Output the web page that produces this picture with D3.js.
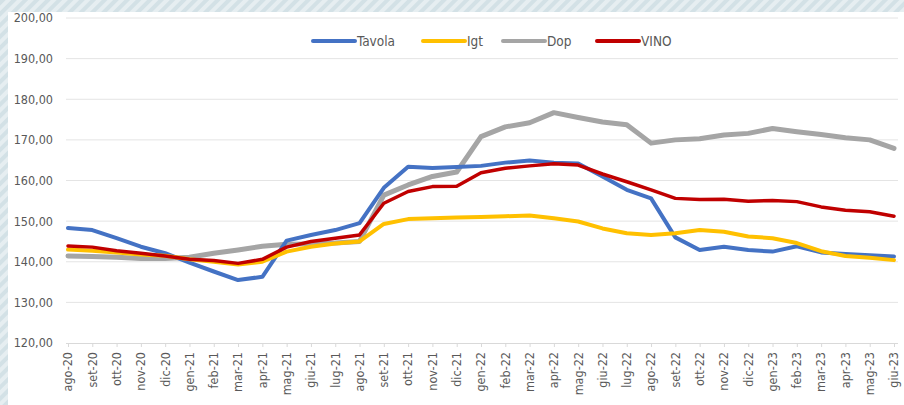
<html>
<head>
<meta charset="utf-8">
<script src="https://d3js.org/d3.v7.min.js"></script>
<style>
body { margin: 0; }
svg { display: block; }
text { font-family: "Liberation Sans Narrow", "DejaVu Sans Condensed", Arial, sans-serif; fill: #595959; }
</style>
</head>
<body>
<svg id="chart" width="904" height="405"></svg>
<script>

var months = ["ago-20","set-20","ott-20","nov-20","dic-20",
  "gen-21","feb-21","mar-21","apr-21","mag-21","giu-21","lug-21","ago-21","set-21","ott-21","nov-21","dic-21",
  "gen-22","feb-22","mar-22","apr-22","mag-22","giu-22","lug-22","ago-22","set-22","ott-22","nov-22","dic-22",
  "gen-23","feb-23","mar-23","apr-23","mag-23","giu-23"];

var tavola = [148.3,147.8,145.8,143.7,142.1,139.8,137.6,135.5,136.3,145.2,146.6,147.8,149.5,158.2,163.4,163.1,163.3,
  163.6,164.4,164.9,164.4,164.2,161.0,157.7,155.6,146.0,142.9,143.7,142.9,142.5,143.8,142.3,141.9,141.6,141.3];
var igt = [143.0,142.7,142.3,141.8,141.5,140.6,140.0,139.3,140.0,142.5,143.7,144.5,145.0,149.3,150.5,150.7,150.9,
  151.0,151.2,151.4,150.7,149.9,148.2,147.0,146.6,147.0,147.8,147.4,146.2,145.8,144.6,142.6,141.4,141.0,140.4];
var dop = [141.4,141.3,141.1,140.8,140.8,141.1,142.1,142.9,143.8,144.3,144.4,144.6,145.0,156.4,158.9,161.0,162.1,
  170.8,173.2,174.2,176.7,175.5,174.4,173.7,169.2,170.0,170.3,171.2,171.6,172.8,172.0,171.3,170.5,170.0,167.9];
var vino = [143.9,143.6,142.7,142.1,141.4,140.6,140.3,139.6,140.6,143.6,145.0,145.8,146.6,154.4,157.3,158.5,158.6,
  161.9,163.0,163.6,164.1,163.8,161.6,159.7,157.7,155.6,155.3,155.4,154.9,155.1,154.8,153.5,152.7,152.3,151.2];

var seriesNames = ["Tavola","Igt","Dop","VINO"];
var seriesColors = ["#4472C4","#FFC000","#A5A5A5","#C00000"];
var seriesWidths = [4, 4, 5, 3.5];
var yTicks = [120,130,140,150,160,170,180,190,200];

var svg = d3.select("#chart");

// striped background
var defs = svg.append("defs");
var pat = defs.append("pattern").attr("id","stripes")
  .attr("width", 8).attr("height", 8)
  .attr("patternUnits","userSpaceOnUse")
  .attr("patternTransform","rotate(45)");
pat.append("rect").attr("width",8).attr("height",8).attr("fill","#e6eef1");
pat.append("rect").attr("width",4).attr("height",8).attr("fill","#d3e1e6");

svg.append("rect").attr("width",904).attr("height",405).attr("fill","url(#stripes)");
svg.append("rect").attr("x",8).attr("y",12).attr("width",896).attr("height",393).attr("fill","#fff");

var x = d3.scalePoint().domain(months).range([68, 894]);
var y = d3.scaleLinear().domain([120, 200]).range([343, 18]);

// gridlines
svg.append("g").selectAll("line").data(yTicks.slice(1)).join("line")
  .attr("x1", 66).attr("x2", 898)
  .attr("y1", function (d) { return y(d); }).attr("y2", function (d) { return y(d); })
  .attr("stroke", "#e4e4e4").attr("stroke-width", 1);

// y labels
svg.append("g").selectAll("text").data(yTicks).join("text")
  .attr("x", 53).attr("y", function (d) { return y(d); })
  .attr("dy", "0.35em").attr("text-anchor", "end")
  .style("font-size", "12.5px")
  .text(function (d) { return d3.format(".2f")(d).replace(".", ","); });

// x axis
var xAxis = d3.axisBottom(x).tickSize(4).tickSizeOuter(0).tickFormat("");
var gx = svg.append("g").attr("transform", "translate(0," + y(120) + ")").call(xAxis);
gx.select(".domain").attr("stroke", "#d9d9d9").attr("d", "M66,0.5H898");
gx.selectAll(".tick line").attr("stroke", "#d9d9d9");

svg.append("g").selectAll("text").data(months).join("text")
  .attr("transform", function (d) { return "translate(" + x(d) + ",352) rotate(-90)"; })
  .attr("dy", "0.35em").attr("text-anchor", "end")
  .style("font-size", "12.5px")
  .text(function (d) { return d; });

// lines
var allSeries = [tavola, igt, dop, vino];
var line = d3.line()
  .x(function (d, i) { return x(months[i]); })
  .y(function (d) { return y(d); });

var drawOrder = [2, 0, 1, 3];
drawOrder.forEach(function (k) {
  svg.append("path").datum(allSeries[k])
    .attr("d", line)
    .attr("fill", "none")
    .attr("stroke", seriesColors[k])
    .attr("stroke-width", seriesWidths[k])
    .attr("stroke-linejoin", "round")
    .attr("stroke-linecap", "round");
});

// legend
var legendX = [313, 423, 503, 597];
var lg = svg.append("g").selectAll("g").data(seriesNames).join("g")
  .attr("transform", function (d, i) { return "translate(" + legendX[i] + ",41)"; });
lg.append("line").attr("x1", 0).attr("x2", 42).attr("y1", 0).attr("y2", 0)
  .attr("stroke", function (d, i) { return seriesColors[i]; })
  .attr("stroke-width", 4).attr("stroke-linecap", "round");
lg.append("text").attr("x", 44).attr("dy", "0.35em")
  .style("font-size", "13.5px")
  .text(function (d) { return d; });

</script>
</body>
</html>
